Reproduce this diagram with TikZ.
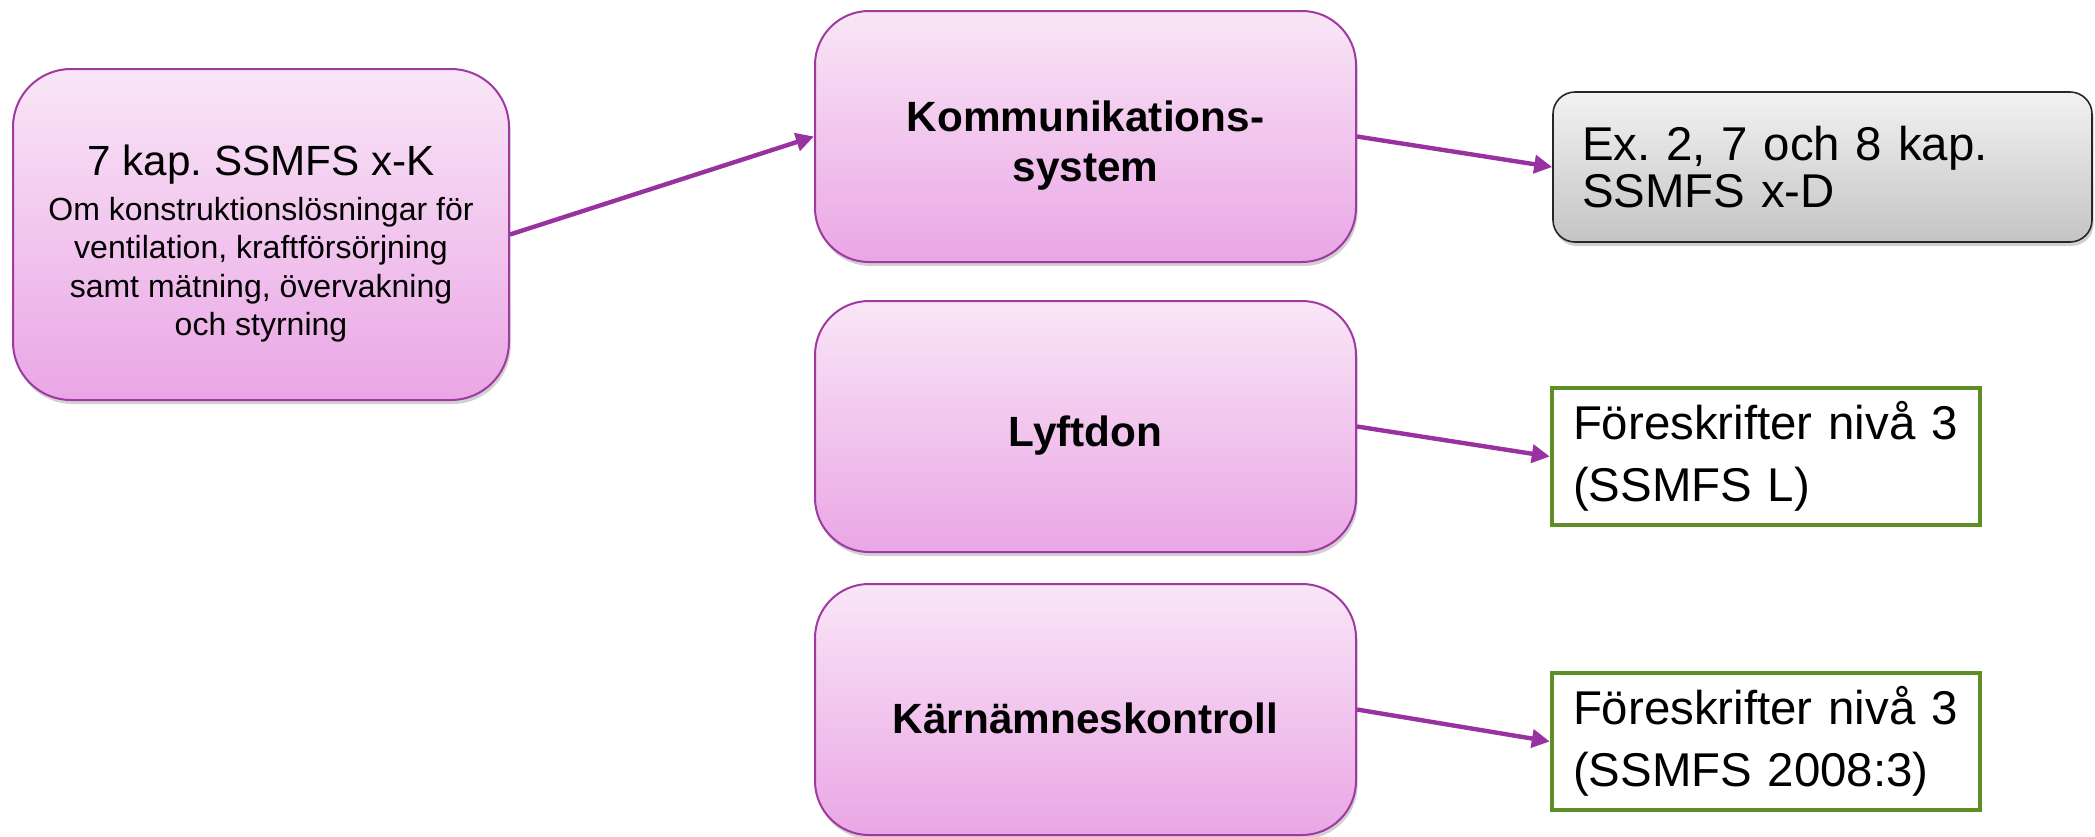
\documentclass[tikz,border=0pt]{standalone}
\usepackage{fontspec}
\setmainfont{Liberation Sans}
\usetikzlibrary{arrows.meta,shadows}
\definecolor{pinkT}{HTML}{F9E6F7}
\definecolor{pinkB}{HTML}{EAA6E5}
\definecolor{pinkBorder}{HTML}{9E3AA2}
\definecolor{arrowc}{HTML}{9932A0}
\definecolor{grayT}{HTML}{F2F2F2}
\definecolor{grayB}{HTML}{C4C4C4}
\definecolor{greenB}{HTML}{5E8F26}
\newcommand{\tgap}{\rule{0pt}{24.5pt}}
\tikzset{
  softshadow/.style={drop shadow={shadow xshift=0.8pt, shadow yshift=-2pt, opacity=0.3, fill=black!60}},
  pinkbox/.style={draw=pinkBorder, line width=1pt, rounded corners=27pt,
    top color=pinkT, bottom color=pinkB, softshadow, align=center, inner sep=0pt},
  midbox/.style={pinkbox, minimum width=270.5pt, minimum height=125.5pt,
    font=\bfseries\fontsize{21.15}{25}\selectfont},
  graybox/.style={draw=black!85, line width=0.8pt, rounded corners=11pt,
    top color=grayT, bottom color=grayB, softshadow, align=left,
    text width=240.5pt, inner xsep=14.5pt, inner ysep=0pt, minimum height=75pt,
    font=\fontsize{23.7}{23.5}\selectfont},
  greenbox/.style={draw=greenB, line width=2.2pt, fill=white, align=left,
    text width=193pt, inner xsep=10.5pt, inner ysep=0pt, minimum height=68.5pt,
    font=\fontsize{23.7}{31}\selectfont},
  conn/.style={draw=arrowc, line width=2.2pt, -{Triangle[length=9pt,width=9pt]}}
}
\begin{document}
\frenchspacing
\begin{tikzpicture}[x=0.5pt,y=-0.5pt]
\useasboundingbox (0,0) rectangle (2095,836);
\node[pinkbox, rounded corners=29pt, minimum width=248pt, minimum height=165.5pt,
  font=\fontsize{16}{19.25}\selectfont] (L) at (261,234.5)
  {{\fontsize{21.1}{24}\selectfont\tgap 7 kap. SSMFS x-K}\\[3.25pt]
   Om konstruktionslösningar för\\ventilation, kraftförsörjning\\samt mätning, övervakning\\och styrning};
\node[midbox] (K) at (1085.5,136.5) {\tgap Kommunikations-\\system};
\node[midbox] (Ly) at (1085.5,426.5) {\tgap Lyftdon};
\node[midbox] (Ka) at (1085.5,709.5) {\tgap Kärnämneskontroll};
\node[graybox] (D) at (1822.5,167) {Ex. 2, 7 och 8 kap.\\SSMFS x-D};
\node[greenbox] (G1) at (1766,456.5) {Föreskrifter nivå 3\\(SSMFS L)};
\node[greenbox] (G2) at (1766,741.5) {Föreskrifter nivå 3\\(SSMFS 2008:3)};
\draw[conn] (L.east) -- (K.west);
\draw[conn] (K.east) -- (D.west);
\draw[conn] (Ly.east) -- (G1.west);
\draw[conn] (Ka.east) -- (G2.west);
\end{tikzpicture}
\end{document}
